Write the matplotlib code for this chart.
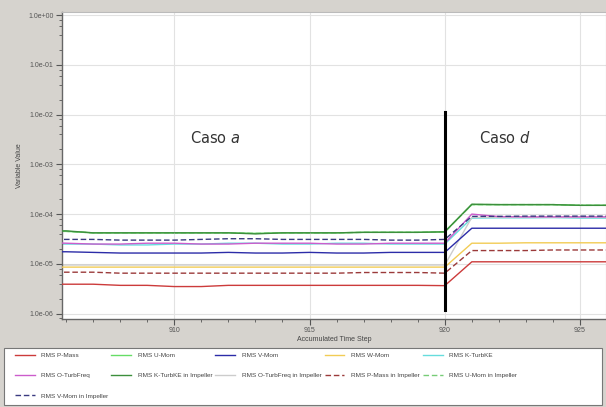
import matplotlib
matplotlib.use("Agg")
import matplotlib.pyplot as plt
from matplotlib.patches import Rectangle
from matplotlib.ticker import LogLocator, NullFormatter, FixedLocator

plt.rcParams["font.family"] = ["Liberation Sans", "DejaVu Sans"]

# datos
steps = [905, 906, 907, 908, 909, 910, 911, 912, 913, 914, 915, 916, 917,
         918, 919, 920, 921, 922, 923, 924, 925, 926]

p_mass = [3.9e-6, 3.9e-6, 3.9e-6, 3.7e-6, 3.7e-6, 3.5e-6, 3.5e-6, 3.7e-6, 3.7e-6, 3.7e-6, 3.7e-6,
          3.7e-6, 3.7e-6, 3.7e-6, 3.7e-6, 3.65e-6, 1.1e-5, 1.1e-5, 1.1e-5, 1.1e-5, 1.1e-5, 1.1e-5]
u_mom = [4.5e-5, 4.5e-5, 4.2e-5, 4.2e-5, 4.2e-5, 4.2e-5, 4.2e-5, 4.2e-5, 4.1e-5, 4.2e-5, 4.2e-5,
         4.2e-5, 4.3e-5, 4.3e-5, 4.3e-5, 4.4e-5, 1.55e-4, 1.55e-4, 1.55e-4, 1.55e-4, 1.5e-4, 1.5e-4]
v_mom = [1.75e-5, 1.75e-5, 1.7e-5, 1.65e-5, 1.65e-5, 1.65e-5, 1.65e-5, 1.7e-5, 1.65e-5, 1.65e-5, 1.7e-5,
         1.65e-5, 1.65e-5, 1.7e-5, 1.7e-5, 1.7e-5, 5.2e-5, 5.2e-5, 5.2e-5, 5.2e-5, 5.2e-5, 5.2e-5]
w_mom = [8.6e-6, 8.6e-6, 8.6e-6, 8.6e-6, 8.6e-6, 8.6e-6, 8.6e-6, 8.6e-6, 8.6e-6, 8.6e-6, 8.6e-6,
         8.6e-6, 8.6e-6, 8.6e-6, 8.6e-6, 8.6e-6, 2.6e-5, 2.6e-5, 2.65e-5, 2.65e-5, 2.65e-5, 2.65e-5]
k_turb = [2.5e-5, 2.5e-5, 2.5e-5, 2.4e-5, 2.4e-5, 2.5e-5, 2.5e-5, 2.6e-5, 2.6e-5, 2.5e-5, 2.5e-5,
          2.6e-5, 2.6e-5, 2.5e-5, 2.5e-5, 2.5e-5, 8.3e-5, 8.4e-5, 8.4e-5, 8.5e-5, 8.3e-5, 8.3e-5]
o_turb = [2.7e-5, 2.6e-5, 2.5e-5, 2.5e-5, 2.6e-5, 2.6e-5, 2.5e-5, 2.5e-5, 2.6e-5, 2.6e-5, 2.6e-5,
          2.5e-5, 2.5e-5, 2.6e-5, 2.6e-5, 2.6e-5, 1.0e-4, 8.9e-5, 8.8e-5, 8.8e-5, 8.8e-5, 8.8e-5]
k_turb_imp = [4.6e-5, 4.6e-5, 4.2e-5, 4.2e-5, 4.2e-5, 4.2e-5, 4.2e-5, 4.2e-5, 4.0e-5, 4.2e-5, 4.2e-5,
              4.2e-5, 4.3e-5, 4.3e-5, 4.3e-5, 4.4e-5, 1.58e-4, 1.55e-4, 1.55e-4, 1.55e-4, 1.5e-4, 1.5e-4]
o_turb_imp = [9.5e-6, 9.5e-6, 9.5e-6, 9.5e-6, 9.5e-6, 9.5e-6, 9.5e-6, 9.5e-6, 9.5e-6, 9.5e-6, 9.5e-6,
              9.5e-6, 9.5e-6, 9.5e-6, 9.5e-6, 9.5e-6, 8.6e-5, 8.6e-5, 8.6e-5, 8.6e-5, 8.6e-5, 8.6e-5]
p_mass_imp = [6.8e-6, 6.8e-6, 6.8e-6, 6.5e-6, 6.5e-6, 6.5e-6, 6.5e-6, 6.5e-6, 6.5e-6, 6.5e-6, 6.5e-6,
              6.5e-6, 6.7e-6, 6.7e-6, 6.7e-6, 6.5e-6, 1.85e-5, 1.85e-5, 1.85e-5, 1.9e-5, 1.9e-5, 1.9e-5]
u_mom_imp = [4.5e-5, 4.5e-5, 4.2e-5, 4.2e-5, 4.2e-5, 4.2e-5, 4.2e-5, 4.2e-5, 4.1e-5, 4.2e-5, 4.2e-5,
             4.2e-5, 4.3e-5, 4.3e-5, 4.3e-5, 4.4e-5, 1.55e-4, 1.55e-4, 1.55e-4, 1.55e-4, 1.5e-4, 1.5e-4]
v_mom_imp = [3.1e-5, 3.1e-5, 3.1e-5, 3.0e-5, 3.0e-5, 3.0e-5, 3.1e-5, 3.2e-5, 3.2e-5, 3.1e-5, 3.1e-5,
             3.1e-5, 3.1e-5, 3.0e-5, 3.0e-5, 3.1e-5, 9.0e-5, 9.0e-5, 9.1e-5, 9.1e-5, 9.1e-5, 9.1e-5]

# nombre, valores, color, estilo, zorder
series = [
    ("RMS P-Mass", p_mass, "#cc3b3b", "-", 3),
    ("RMS U-Mom", u_mom, "#66dd66", "-", 1),
    ("RMS V-Mom", v_mom, "#2c2ca8", "-", 3),
    ("RMS W-Mom", w_mom, "#f2cc55", "-", 3),
    ("RMS K-TurbKE", k_turb, "#66dddd", "-", 2),
    ("RMS O-TurbFreq", o_turb, "#cc5ccc", "-", 3),
    ("RMS K-TurbKE in Impeller", k_turb_imp, "#3c8f3c", "-", 4),
    ("RMS O-TurbFreq in Impeller", o_turb_imp, "#cccccc", "-", 2),
    ("RMS P-Mass in Impeller", p_mass_imp, "#9b3a3a", "--", 3),
    ("RMS U-Mom in Impeller", u_mom_imp, "#77cc77", "--", 1),
    ("RMS V-Mom in Impeller", v_mom_imp, "#3a3a80", "--", 4),
]

BG = "#d6d3ce"
FS = 5
LFS = 4.6
fig = plt.figure(figsize=(6.06, 4.07), dpi=100, facecolor=BG)
ax = fig.add_axes([62 / 606, 88 / 407, 544 / 606, 307 / 407])
ax.set_facecolor("white")

lines = []
for name, vals, col, ls, z in series:
    ln, = ax.plot(steps, vals, color=col, lw=1.0, label=name, zorder=z)
    if ls == "--":
        ln.set_dashes((4, 2))
    lines.append(ln)

ax.set_yscale("log")
ax.set_ylim(7.8e-7, 1.15)
ax.set_xlim(905.85, 925.96)

ax.xaxis.set_major_locator(FixedLocator([910, 915, 920, 925]))
ax.xaxis.set_minor_locator(FixedLocator(range(906, 926)))
ax.yaxis.set_major_locator(LogLocator(base=10, numticks=10))
ax.yaxis.set_minor_locator(LogLocator(base=10, subs=(2, 4, 6, 8), numticks=20))
ax.yaxis.set_minor_formatter(NullFormatter())
ax.yaxis.set_major_formatter(plt.FuncFormatter(lambda v, p: f"{v:.1e}"))

ax.grid(True, which="major", color="#e2e2e2", lw=0.8)
ax.tick_params(axis="both", which="major", labelsize=FS, colors="#555555", length=4, width=0.8, pad=2)
ax.tick_params(axis="both", which="minor", colors="#555555", length=2.5, width=0.6)
for s in ["top", "right"]:
    ax.spines[s].set_color("#bbbbbb")
for s in ["left", "bottom"]:
    ax.spines[s].set_color("#666666")
    ax.spines[s].set_linewidth(1.0)

ax.set_ylabel("Variable Value", fontsize=FS, color="#444444", labelpad=4)
ax.set_xlabel("Accumulated Time Step", fontsize=FS, color="#444444", labelpad=1)

# línea de cambio de caso
ax.plot([920, 920], [1.1e-2, 1.2e-6], color="black", lw=2.2, zorder=5)
fig.text(190 / 606, 1 - 138 / 407, "Caso $\\mathit{a}$", fontsize=10.5, color="#333333",
         ha="left", va="center", family="DejaVu Sans")
fig.text(479 / 606, 1 - 138 / 407, "Caso $\\mathit{d}$", fontsize=10.5, color="#333333",
         ha="left", va="center", family="DejaVu Sans")

# marco blanco de la leyenda
fig.patches.append(Rectangle((4 / 606, 2 / 407), 598 / 606, 57 / 407, transform=fig.transFigure,
                             facecolor="white", edgecolor="#777777", lw=0.8, zorder=0))

# leyenda en orden por filas
order = [0, 5, 10, 1, 6, 2, 7, 3, 8, 4, 9]
leg = fig.legend([lines[i] for i in order], [series[i][0] for i in order],
                 loc="upper left", bbox_to_anchor=(11 / 606, 1 - 349 / 407),
                 ncol=5, fontsize=LFS, frameon=False,
                 handlelength=3.1, handletextpad=1.05, columnspacing=0.45,
                 borderaxespad=0, labelspacing=2.3, borderpad=0.6)
for txt in leg.get_texts():
    txt.set_color("#444444")

fig.savefig("out.png", dpi=100, facecolor=BG)
